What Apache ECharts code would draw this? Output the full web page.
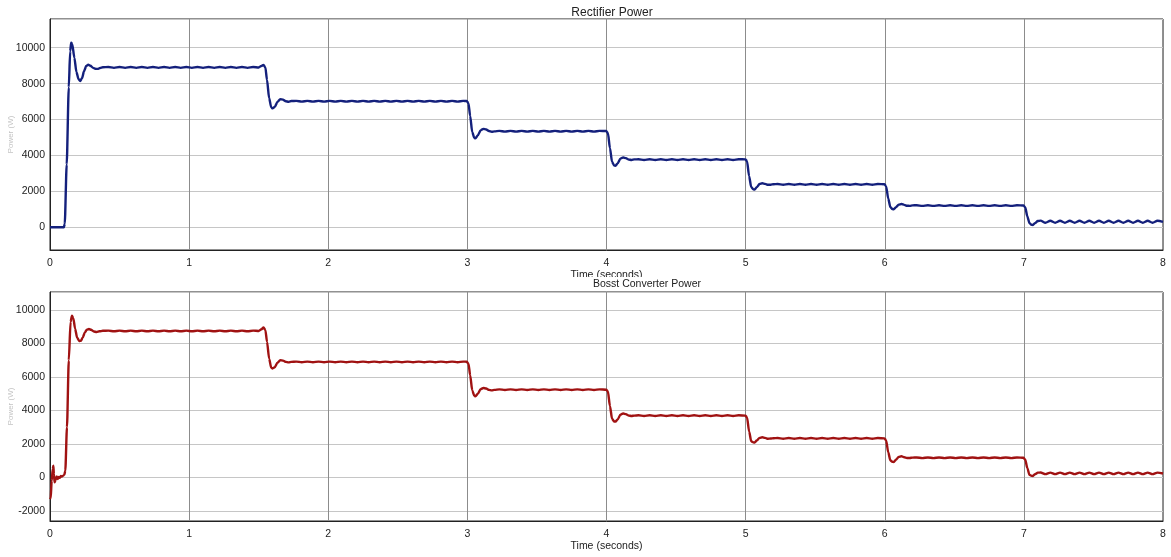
<!DOCTYPE html>
<html>
<head>
<meta charset="utf-8">
<script src="https://cdn.jsdelivr.net/npm/echarts@6/dist/echarts.min.js"></script>
<style>
html,body{margin:0;padding:0;background:#fff;}
#chart{width:1171px;height:557px;}
</style>
</head>
<body>
<div id="chart"></div>
<script>
const titles = ['Rectifier Power', 'Bosst Converter Power'];
const xAxisName = 'Time (seconds)';
const yAxisName = 'Power (W)';
const xTicks = [0, 1, 2, 3, 4, 5, 6, 7, 8];

// [time (s), power (W)]
const rectifierPower = [
[0,0],[0.05,0],[0.1,0],[0.106,200],[0.12,3500],[0.135,7800],[0.145,9800],[0.152,10280],[0.16,10200],[0.175,9450],[0.19,8650],[0.205,8250],[0.217,8150],[0.23,8300],[0.245,8700],[0.26,8980],[0.275,9060],[0.29,9000],[0.31,8880],[0.325,8830],[0.343,8820],[0.36,8870],[0.38,8910],
[0.42,8925],[0.46,8880],[0.50,8925],[0.54,8880],[0.58,8925],[0.62,8880],[0.66,8925],[0.70,8880],[0.74,8925],[0.78,8880],[0.82,8925],[0.86,8880],[0.90,8925],[0.94,8880],[0.98,8925],[1.02,8880],[1.06,8925],[1.10,8880],[1.14,8925],[1.18,8880],[1.22,8925],[1.26,8880],[1.30,8925],[1.34,8880],[1.38,8925],[1.42,8880],[1.46,8925],[1.50,8900],
[1.52,8990],[1.535,9040],[1.548,8900],[1.56,8200],[1.575,7200],[1.59,6680],[1.6,6620],[1.615,6700],[1.635,6980],[1.655,7130],[1.675,7110],[1.695,7020],[1.715,6990],[1.735,7030],
[1.77,7040],[1.81,7000],[1.85,7040],[1.89,7000],[1.93,7040],[1.97,7000],[2.01,7040],[2.05,7000],[2.09,7040],[2.13,7000],[2.17,7040],[2.21,7000],[2.25,7040],[2.29,7000],[2.33,7040],[2.37,7000],[2.41,7040],[2.45,7000],[2.49,7040],[2.53,7000],[2.57,7040],[2.61,7000],[2.65,7040],[2.69,7000],[2.73,7040],[2.77,7000],[2.81,7040],[2.85,7000],[2.89,7040],[2.93,7000],[2.97,7040],
[2.995,7030],[3.008,6900],[3.02,6200],[3.035,5300],[3.05,4980],[3.058,4950],[3.075,5120],[3.095,5400],[3.115,5480],[3.135,5450],[3.155,5360],[3.175,5320],[3.195,5340],
[3.23,5370],[3.27,5330],[3.31,5370],[3.35,5330],[3.39,5370],[3.43,5330],[3.47,5370],[3.51,5330],[3.55,5370],[3.59,5330],[3.63,5370],[3.67,5330],[3.71,5370],[3.75,5330],[3.79,5370],[3.83,5330],[3.87,5370],[3.91,5330],[3.95,5370],
[3.998,5360],[4.01,5250],[4.025,4400],[4.04,3650],[4.055,3440],[4.065,3430],[4.08,3560],[4.1,3820],[4.12,3890],[4.14,3850],[4.16,3770],[4.18,3750],[4.2,3780],
[4.23,3790],[4.27,3750],[4.31,3790],[4.35,3750],[4.39,3790],[4.43,3750],[4.47,3790],[4.51,3750],[4.55,3790],[4.59,3750],[4.63,3790],[4.67,3750],[4.71,3790],[4.75,3750],[4.79,3790],[4.83,3750],[4.87,3790],[4.91,3750],[4.95,3790],
[4.998,3780],[5.01,3680],[5.025,2850],[5.04,2250],[5.055,2110],[5.065,2100],[5.08,2230],[5.1,2410],[5.12,2450],[5.14,2420],[5.16,2370],[5.18,2370],[5.2,2400],
[5.23,2410],[5.27,2370],[5.31,2410],[5.35,2370],[5.39,2410],[5.43,2370],[5.47,2410],[5.51,2370],[5.55,2410],[5.59,2370],[5.63,2410],[5.67,2370],[5.71,2410],[5.75,2370],[5.79,2410],[5.83,2370],[5.87,2410],[5.91,2370],[5.95,2410],
[5.998,2400],[6.01,2280],[6.025,1600],[6.04,1130],[6.055,1010],[6.065,1000],[6.08,1110],[6.1,1260],[6.12,1295],[6.14,1250],[6.16,1200],[6.18,1195],[6.2,1220],
[6.23,1230],[6.27,1190],[6.31,1230],[6.35,1190],[6.39,1230],[6.43,1190],[6.47,1230],[6.51,1190],[6.55,1230],[6.59,1190],[6.63,1230],[6.67,1190],[6.71,1230],[6.75,1190],[6.79,1230],[6.83,1190],[6.87,1230],[6.91,1190],[6.95,1230],
[6.998,1215],[7.01,1100],[7.025,600],[7.04,230],[7.055,140],[7.065,130],[7.08,230],[7.1,350],[7.12,370],
[7.155,250],[7.19,360],[7.225,250],[7.26,360],[7.295,250],[7.33,360],[7.365,250],[7.40,360],[7.435,250],[7.47,360],[7.505,250],[7.54,360],[7.575,250],[7.61,360],[7.645,250],[7.68,360],[7.715,250],[7.75,360],[7.785,250],[7.82,360],[7.855,250],[7.89,360],[7.925,250],[7.96,360],[8.0,300]
];

const boostPower = [
[0,-1300],[0.005,-1250],[0.012,-200],[0.02,500],[0.024,700],[0.028,200],[0.033,-300],[0.04,-150],[0.048,50],[0.055,-100],[0.063,20],[0.07,-20],[0.078,80],[0.085,50],[0.095,100],[0.103,150],[0.11,400],[0.122,3000],[0.135,7000],[0.148,9300],[0.158,9660],[0.168,9500],[0.18,8900],[0.195,8350],[0.21,8150],[0.222,8170],[0.235,8350],[0.25,8650],[0.265,8830],[0.28,8870],[0.295,8820],[0.315,8720],[0.335,8690],[0.355,8730],[0.38,8760],
[0.42,8770],[0.46,8730],[0.50,8770],[0.54,8730],[0.58,8770],[0.62,8730],[0.66,8770],[0.70,8730],[0.74,8770],[0.78,8730],[0.82,8770],[0.86,8730],[0.90,8770],[0.94,8730],[0.98,8770],[1.02,8730],[1.06,8770],[1.10,8730],[1.14,8770],[1.18,8730],[1.22,8770],[1.26,8730],[1.30,8770],[1.34,8730],[1.38,8770],[1.42,8730],[1.46,8770],[1.50,8750],
[1.52,8850],[1.535,8960],[1.548,8800],[1.56,8100],[1.575,7100],[1.59,6560],[1.6,6510],[1.615,6580],[1.635,6850],[1.655,7000],[1.675,6980],[1.695,6900],[1.715,6870],[1.735,6900],
[1.77,6920],[1.81,6880],[1.85,6920],[1.89,6880],[1.93,6920],[1.97,6880],[2.01,6920],[2.05,6880],[2.09,6920],[2.13,6880],[2.17,6920],[2.21,6880],[2.25,6920],[2.29,6880],[2.33,6920],[2.37,6880],[2.41,6920],[2.45,6880],[2.49,6920],[2.53,6880],[2.57,6920],[2.61,6880],[2.65,6920],[2.69,6880],[2.73,6920],[2.77,6880],[2.81,6920],[2.85,6880],[2.89,6920],[2.93,6880],[2.97,6920],
[2.995,6910],[3.008,6800],[3.02,6100],[3.035,5200],[3.05,4870],[3.058,4845],[3.075,5000],[3.095,5270],[3.115,5340],[3.135,5310],[3.155,5230],[3.175,5200],[3.195,5230],
[3.23,5260],[3.27,5220],[3.31,5260],[3.35,5220],[3.39,5260],[3.43,5220],[3.47,5260],[3.51,5220],[3.55,5260],[3.59,5220],[3.63,5260],[3.67,5220],[3.71,5260],[3.75,5220],[3.79,5260],[3.83,5220],[3.87,5260],[3.91,5220],[3.95,5260],
[3.998,5240],[4.01,5130],[4.025,4250],[4.04,3500],[4.055,3340],[4.065,3330],[4.08,3460],[4.1,3740],[4.12,3820],[4.14,3780],[4.16,3690],[4.18,3670],[4.2,3690],
[4.23,3710],[4.27,3670],[4.31,3710],[4.35,3670],[4.39,3710],[4.43,3670],[4.47,3710],[4.51,3670],[4.55,3710],[4.59,3670],[4.63,3710],[4.67,3670],[4.71,3710],[4.75,3670],[4.79,3710],[4.83,3670],[4.87,3710],[4.91,3670],[4.95,3710],
[4.998,3690],[5.01,3580],[5.025,2750],[5.04,2160],[5.055,2090],[5.065,2080],[5.08,2200],[5.1,2360],[5.12,2400],[5.14,2360],[5.16,2310],[5.18,2320],[5.2,2340],
[5.23,2350],[5.27,2310],[5.31,2350],[5.35,2310],[5.39,2350],[5.43,2310],[5.47,2350],[5.51,2310],[5.55,2350],[5.59,2310],[5.63,2350],[5.67,2310],[5.71,2350],[5.75,2310],[5.79,2350],[5.83,2310],[5.87,2350],[5.91,2310],[5.95,2350],
[5.998,2330],[6.01,2200],[6.025,1500],[6.04,1020],[6.055,930],[6.065,920],[6.08,1050],[6.1,1220],[6.12,1260],[6.14,1200],[6.16,1160],[6.18,1160],[6.2,1180],
[6.23,1190],[6.27,1150],[6.31,1190],[6.35,1150],[6.39,1190],[6.43,1150],[6.47,1190],[6.51,1150],[6.55,1190],[6.59,1150],[6.63,1190],[6.67,1150],[6.71,1190],[6.75,1150],[6.79,1190],[6.83,1150],[6.87,1190],[6.91,1150],[6.95,1190],
[6.998,1170],[7.01,1050],[7.025,550],[7.04,150],[7.055,90],[7.065,80],[7.08,190],[7.1,280],[7.12,290],
[7.155,190],[7.19,280],[7.225,190],[7.26,280],[7.295,190],[7.33,280],[7.365,190],[7.40,280],[7.435,190],[7.47,280],[7.505,190],[7.54,280],[7.575,190],[7.61,280],[7.645,190],[7.68,280],[7.715,190],[7.75,280],[7.785,190],[7.82,280],[7.855,190],[7.89,280],[7.925,190],[7.96,280],[8.0,230]
];

const yRanges = [[-1265, 11600], [-2610, 11080]];
const lineColors = ['#14207c', '#a01212'];

const chart = echarts.init(document.getElementById('chart'), null, {renderer: 'canvas'});
const font = 'Liberation Sans, Arial, sans-serif';

function xAxisCfg(gi) {
  return {
    type: 'value', gridIndex: gi, min: 0, max: 8, interval: 1,
    name: xAxisName, nameLocation: 'middle', nameGap: 20,
    nameTextStyle: {fontFamily: font, fontSize: 10.5, color: '#222'},
    axisLine: {onZero: false, lineStyle: {color: '#222', width: 1}},
    axisTick: {show: false},
    axisLabel: {fontFamily: font, fontSize: 10.5, color: '#222', margin: 8,
      formatter: v => xTicks.indexOf(v) >= 0 ? String(v) : ''},
    splitLine: {show: true, lineStyle: {color: '#8c8c8c', width: 1}}
  };
}
function yAxisCfg(gi) {
  return {
    type: 'value', gridIndex: gi, min: yRanges[gi][0], max: yRanges[gi][1], splitNumber: 6,
    name: yAxisName, nameLocation: 'middle', nameGap: 35, nameMoveOverlap: false,
    nameTextStyle: {fontFamily: font, fontSize: 8, color: '#c4c4c4'},
    axisLine: {lineStyle: {color: '#222', width: 1}},
    axisTick: {show: false},
    axisLabel: {fontFamily: font, fontSize: 10.5, color: '#222', margin: 5,
      showMinLabel: false, showMaxLabel: false, formatter: v => String(v)},
    splitLine: {show: true, lineStyle: {color: '#c6c6c6', width: 1}}
  };
}

chart.setOption({
  animation: false,
  backgroundColor: '#ffffff',
  title: [
    {text: titles[0], left: 607, top: 2, textAlign: 'center',
     textStyle: {fontFamily: font, fontSize: 12, fontWeight: 'normal', color: '#222'}},
    {text: titles[1], left: 607, top: 277, textAlign: 'center', backgroundColor: '#ffffff',
     padding: [2, 40, 1, 40],
     textStyle: {fontFamily: font, fontSize: 10.5, fontWeight: 'normal', color: '#222'}}
  ],
  grid: [
    {left: 50, right: 8, top: 19, height: 231, show: true, borderColor: '#222', borderWidth: 1, outerBoundsMode: 'none'},
    {left: 50, right: 8, top: 292, height: 229, show: true, borderColor: '#222', borderWidth: 1, outerBoundsMode: 'none'}
  ],
  xAxis: [xAxisCfg(0), xAxisCfg(1)],
  yAxis: [yAxisCfg(0), yAxisCfg(1)],
  series: [
    {type: 'line', xAxisIndex: 0, yAxisIndex: 0, data: rectifierPower, showSymbol: false,
     smooth: 0.25, smoothMonotone: 'x', lineStyle: {color: lineColors[0], width: 2.4}},
    {type: 'line', xAxisIndex: 1, yAxisIndex: 1, data: boostPower, showSymbol: false,
     smooth: 0.25, smoothMonotone: 'x', lineStyle: {color: lineColors[1], width: 2.4}}
  ]
});
</script>
</body>
</html>
